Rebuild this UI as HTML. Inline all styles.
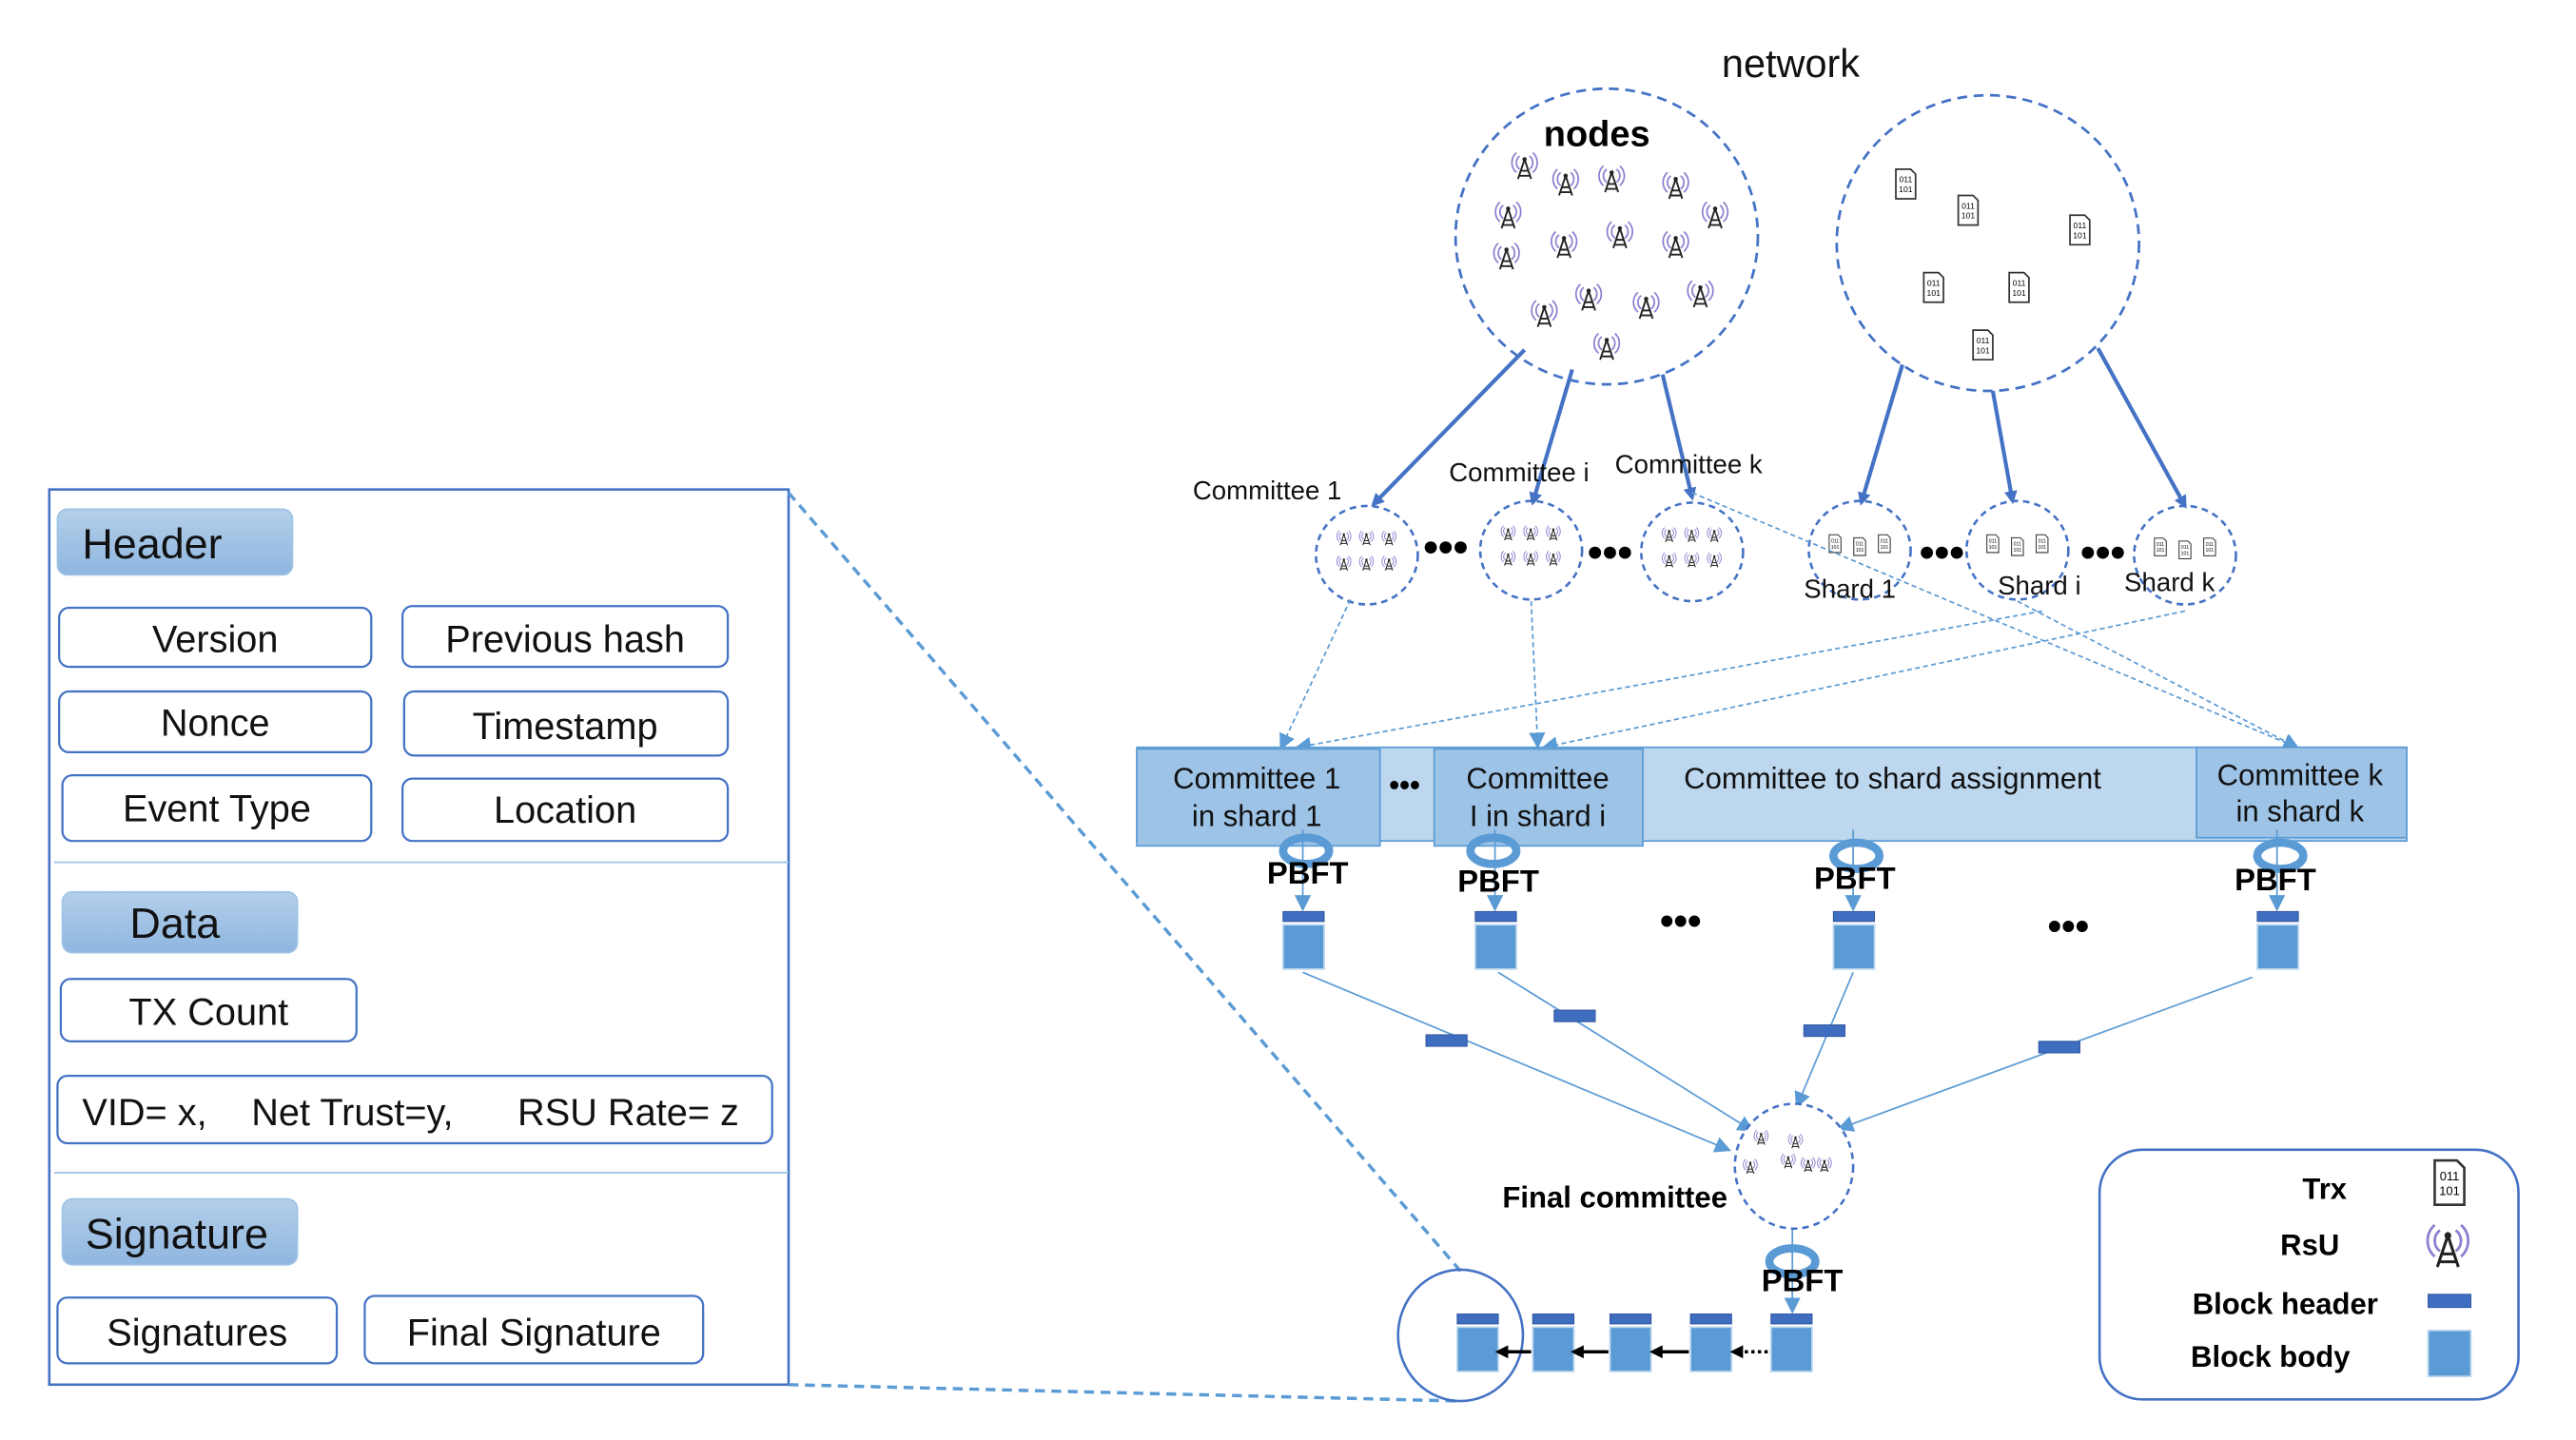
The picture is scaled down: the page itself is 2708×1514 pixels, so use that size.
<!DOCTYPE html>
<html><head><meta charset="utf-8"><style>
html,body{margin:0;padding:0;background:#fff;}
svg{display:block;}
text{font-family:"Liberation Sans",sans-serif;}
</style></head><body>
<svg width="2708" height="1514" viewBox="0 0 1568 876.7" preserveAspectRatio="none" xmlns="http://www.w3.org/2000/svg">
<defs>
<linearGradient id="pill" x1="0" y1="0" x2="0" y2="1"><stop offset="0" stop-color="#b4cfea"/><stop offset="1" stop-color="#8fb6e0"/></linearGradient>
<marker id="ah" markerWidth="8" markerHeight="8" refX="6" refY="4" orient="auto" markerUnits="userSpaceOnUse"><path d="M0,0 L8,4 L0,8z" fill="#4472c4"/></marker>
<marker id="al" markerWidth="10" markerHeight="10" refX="8" refY="5" orient="auto" markerUnits="userSpaceOnUse"><path d="M0,0 L10,5 L0,10z" fill="#5b9bd5"/></marker>
<marker id="ab" markerWidth="8" markerHeight="8" refX="6" refY="4" orient="auto" markerUnits="userSpaceOnUse"><path d="M0,0 L8,4 L0,8z" fill="#000"/></marker>
<g id="tw"><g fill="none" stroke="#8a7fd0" stroke-width="1"><path d="M-3,-5 a5,5 0 0 0 0,8"/><path d="M-5,-7 a8,8 0 0 0 0,12"/><path d="M3,-5 a5,5 0 0 1 0,8"/><path d="M5,-7 a8,8 0 0 1 0,12"/></g><path d="M0,-3 L-4,9 M0,-3 L4,9 M-2,4 L2,4 M-3,7 L3,7" stroke="#222" stroke-width="1.1" fill="none"/><circle cx="0" cy="-3" r="1.3" fill="#222"/></g>
<g id="doc"><path d="M-6,-9 L3,-9 L6,-6 L6,9 L-6,9z" fill="#fff" stroke="#333" stroke-width="1"/><text x="0" y="-1" font-size="5" text-anchor="middle">011</text><text x="0" y="5" font-size="5" text-anchor="middle">101</text></g>
<g id="blk"><rect x="0" y="0" width="25" height="6" fill="#3f6dbf" stroke="#2f55a0" stroke-width="0.6"/><rect x="0" y="8" width="25" height="27" fill="#5b9bd5" stroke="#bdd7ee" stroke-width="1"/></g>
</defs>

<rect x="30" y="298" width="450" height="545" fill="#fff" stroke="#4472c4" stroke-width="1.5"/>
<line x1="480" y1="300" x2="890" y2="775" stroke="#5b9bd5" stroke-width="2" stroke-dasharray="6,4"/>
<line x1="480" y1="843" x2="889" y2="853" stroke="#5b9bd5" stroke-width="2" stroke-dasharray="6,4"/>
<line x1="33" y1="525" x2="480" y2="525" stroke="#9dc3e6" stroke-width="1"/>
<line x1="33" y1="714" x2="480" y2="714" stroke="#9dc3e6" stroke-width="1"/>
<g stroke="#4472c4" stroke-width="1.3" fill="#fff">
<rect x="36" y="370" width="190" height="36" rx="6"/>
<rect x="245" y="369" width="198" height="37" rx="6"/>
<rect x="36" y="421" width="190" height="37" rx="6"/>
<rect x="246" y="421" width="197" height="39" rx="6"/>
<rect x="38" y="472" width="188" height="40" rx="6"/>
<rect x="245" y="474" width="198" height="38" rx="6"/>
<rect x="37" y="596" width="180" height="38" rx="6"/>
<rect x="35" y="655" width="435" height="41" rx="6"/>
<rect x="35" y="790" width="170" height="40" rx="6"/>
<rect x="222" y="789" width="206" height="41" rx="6"/>
</g>
<g fill="url(#pill)" stroke="#9dc3e6" stroke-width="1">
<rect x="35" y="310" width="143" height="40" rx="6"/>
<rect x="38" y="543" width="143" height="37" rx="6"/>
<rect x="38" y="730" width="143" height="40" rx="6"/>
</g>
<g font-size="26" fill="#111">
<text x="50" y="340">Header</text>
<text x="79" y="571">Data</text>
<text x="52" y="760">Signature</text>
</g>
<g font-size="23" fill="#111" text-anchor="middle">
<text x="131" y="397">Version</text>
<text x="344" y="397">Previous hash</text>
<text x="131" y="448">Nonce</text>
<text x="344" y="450">Timestamp</text>
<text x="132" y="500">Event Type</text>
<text x="344" y="501">Location</text>
<text x="127" y="624">TX Count</text>
<text x="120" y="819">Signatures</text>
<text x="325" y="819">Final Signature</text>
</g>
<g font-size="23" fill="#111">
<text x="50" y="685">VID= x,</text>
<text x="153" y="685">Net Trust=y,</text>
<text x="315" y="685">RSU Rate= z</text>
</g>

<text x="1090" y="47" font-size="24" text-anchor="middle" fill="#111">network</text>
<ellipse cx="978" cy="144" rx="92" ry="90" fill="none" stroke="#4472c4" stroke-width="1.6" stroke-dasharray="6,4"/>
<ellipse cx="1210" cy="148" rx="92" ry="90" fill="none" stroke="#4472c4" stroke-width="1.6" stroke-dasharray="6,4"/>
<text x="972" y="89" font-size="22" font-weight="bold" text-anchor="middle">nodes</text>
<g>
<use href="#tw" x="928" y="100"/><use href="#tw" x="953" y="110"/><use href="#tw" x="981" y="108"/><use href="#tw" x="1020" y="112"/>
<use href="#tw" x="918" y="130"/><use href="#tw" x="1044" y="130"/><use href="#tw" x="952" y="148"/><use href="#tw" x="986" y="142"/>
<use href="#tw" x="1020" y="148"/><use href="#tw" x="917" y="155"/><use href="#tw" x="940" y="190"/><use href="#tw" x="967" y="180"/>
<use href="#tw" x="1002" y="185"/><use href="#tw" x="1035" y="178"/><use href="#tw" x="978" y="210"/>
</g>
<g>
<use href="#doc" x="1160" y="112"/><use href="#doc" x="1198" y="128"/><use href="#doc" x="1266" y="140"/>
<use href="#doc" x="1177" y="175"/><use href="#doc" x="1229" y="175"/><use href="#doc" x="1207" y="210"/>
</g>
<g stroke="#4472c4" stroke-width="2.4" marker-end="url(#ah)">
<line x1="928" y1="213" x2="836" y2="307"/>
<line x1="957" y1="225" x2="933" y2="306"/>
<line x1="1012" y1="228" x2="1030" y2="303"/>
<line x1="1158" y1="222" x2="1133" y2="306"/>
<line x1="1213" y1="238" x2="1225" y2="305"/>
<line x1="1277" y1="212" x2="1330" y2="308"/>
</g>
<g fill="none" stroke="#4472c4" stroke-width="1.5" stroke-dasharray="4,3">
<ellipse cx="832" cy="338" rx="31" ry="30"/>
<ellipse cx="932" cy="335" rx="31" ry="30"/>
<ellipse cx="1030" cy="336" rx="31" ry="30"/>
<ellipse cx="1132" cy="335" rx="31" ry="30"/>
<ellipse cx="1228" cy="335" rx="31" ry="30"/>
<ellipse cx="1330" cy="338" rx="31" ry="30"/>
</g>
<g transform="translate(818,327) scale(0.55)"><use href="#tw" x="0" y="0"/><use href="#tw" x="25" y="0"/><use href="#tw" x="50" y="0"/><use href="#tw" x="0" y="28"/><use href="#tw" x="25" y="28"/><use href="#tw" x="50" y="28"/></g>
<g transform="translate(918,324) scale(0.55)"><use href="#tw" x="0" y="0"/><use href="#tw" x="25" y="0"/><use href="#tw" x="50" y="0"/><use href="#tw" x="0" y="28"/><use href="#tw" x="25" y="28"/><use href="#tw" x="50" y="28"/></g>
<g transform="translate(1016,325) scale(0.55)"><use href="#tw" x="0" y="0"/><use href="#tw" x="25" y="0"/><use href="#tw" x="50" y="0"/><use href="#tw" x="0" y="28"/><use href="#tw" x="25" y="28"/><use href="#tw" x="50" y="28"/></g>
<g transform="translate(1117,331) scale(0.6)"><use href="#doc" x="0" y="0"/><use href="#doc" x="25" y="3"/><use href="#doc" x="50" y="0"/></g>
<g transform="translate(1213,331) scale(0.6)"><use href="#doc" x="0" y="0"/><use href="#doc" x="25" y="3"/><use href="#doc" x="50" y="0"/></g>
<g transform="translate(1315,333) scale(0.6)"><use href="#doc" x="0" y="0"/><use href="#doc" x="25" y="3"/><use href="#doc" x="50" y="0"/></g>
<g font-size="26" font-weight="bold" text-anchor="middle" fill="#000">
<text x="880" y="342">•••</text><text x="980" y="345">•••</text><text x="1182" y="345">•••</text><text x="1280" y="345">•••</text>
</g>
<g font-size="16" fill="#111">
<text x="726" y="304">Committee 1</text>
<text x="882" y="293">Committee i</text>
<text x="983" y="288">Committee k</text>
<text x="1098" y="364">Shard 1</text>
<text x="1216" y="362">Shard i</text>
<text x="1293" y="360">Shard k</text>
</g>
<g stroke="#5b9bd5" stroke-width="1" stroke-dasharray="3,2" fill="none" marker-end="url(#al)">
<line x1="822" y1="365" x2="780" y2="455"/>
<line x1="932" y1="366" x2="936" y2="454"/>
<line x1="1243" y1="372" x2="790" y2="455"/>
<line x1="1330" y1="372" x2="940" y2="455"/>
<line x1="1030" y1="300" x2="1398" y2="455"/>
<line x1="1228" y1="366" x2="1398" y2="455"/>
</g>

<rect x="692" y="455" width="773" height="57" fill="#bdd7ee" stroke="#5b9bd5" stroke-width="1"/>
<g fill="#9dc3e6" stroke="#5b9bd5" stroke-width="1">
<rect x="692" y="456" width="148" height="59"/>
<rect x="873" y="456" width="127" height="59"/>
<rect x="1337" y="455" width="128" height="55"/>
</g>
<g font-size="18" fill="#111" text-anchor="middle">
<text x="765" y="480">Committee 1</text><text x="765" y="503">in shard 1</text>
<text x="936" y="480">Committee</text><text x="936" y="503">I in shard i</text>
<text x="1400" y="478">Committee k</text><text x="1400" y="500">in shard k</text>
<text x="1152" y="480">Committee to shard assignment</text>
</g>
<text x="855" y="484" font-size="18" font-weight="bold" text-anchor="middle">•••</text>

<g fill="none" stroke="#5b9bd5" stroke-width="5">
<ellipse cx="795" cy="518" rx="14" ry="8"/>
<ellipse cx="909" cy="518" rx="14" ry="8"/>
<ellipse cx="1130" cy="521" rx="14" ry="8"/>
<ellipse cx="1388" cy="521" rx="14" ry="8"/>
<ellipse cx="1091" cy="768" rx="14" ry="8"/>
</g>
<g stroke="#5b9bd5" stroke-width="1" marker-end="url(#al)">
<line x1="793" y1="505" x2="793" y2="553"/>
<line x1="910" y1="505" x2="910" y2="553"/>
<line x1="1128" y1="505" x2="1128" y2="553"/>
<line x1="1386" y1="505" x2="1386" y2="553"/>
<line x1="1091" y1="748" x2="1091" y2="798"/>
</g>
<g font-size="19" font-weight="bold" text-anchor="middle" fill="#000">
<text x="796" y="538">PBFT</text><text x="912" y="543">PBFT</text><text x="1129" y="541">PBFT</text><text x="1385" y="542">PBFT</text><text x="1097" y="786">PBFT</text>
</g>
<use href="#blk" x="781" y="555"/><use href="#blk" x="898" y="555"/><use href="#blk" x="1116" y="555"/><use href="#blk" x="1374" y="555"/>
<g font-size="24" font-weight="bold" text-anchor="middle"><text x="1023" y="569">•••</text><text x="1259" y="572">•••</text></g>

<g stroke="#5b9bd5" stroke-width="1" marker-end="url(#al)">
<line x1="793" y1="592" x2="1052" y2="700"/>
<line x1="912" y1="592" x2="1066" y2="688"/>
<line x1="1128" y1="592" x2="1094" y2="673"/>
<line x1="1371" y1="595" x2="1120" y2="687"/>
</g>
<g fill="#3f6dbf" stroke="#2f55a0" stroke-width="0.6">
<rect x="868" y="630" width="25" height="7"/>
<rect x="946" y="615" width="25" height="7"/>
<rect x="1098" y="624" width="25" height="7"/>
<rect x="1241" y="634" width="25" height="7"/>
</g>
<ellipse cx="1092" cy="710" rx="36" ry="38" fill="#fff" stroke="#4472c4" stroke-width="1.5" stroke-dasharray="4,3"/>
<g transform="translate(1072,692) scale(0.55)"><use href="#tw" x="0" y="0"/><use href="#tw" x="38" y="4"/><use href="#tw" x="30" y="26"/><use href="#tw" x="-12" y="32"/><use href="#tw" x="52" y="30"/><use href="#tw" x="70" y="30"/></g>
<text x="983" y="735" font-size="18" font-weight="bold" text-anchor="middle">Final committee</text>

<ellipse cx="889" cy="813" rx="38" ry="40" fill="none" stroke="#4472c4" stroke-width="1.5"/>
<use href="#blk" x="887" y="800"/><use href="#blk" x="933" y="800"/><use href="#blk" x="980" y="800"/><use href="#blk" x="1029" y="800"/><use href="#blk" x="1078" y="800"/>
<g stroke="#000" stroke-width="2" marker-end="url(#ab)">
<line x1="932" y1="823" x2="912" y2="823"/>
<line x1="979" y1="823" x2="958" y2="823"/>
<line x1="1028" y1="823" x2="1006" y2="823"/>
<line x1="1076" y1="823" x2="1055" y2="823" stroke-dasharray="2,2"/>
</g>

<rect x="1278" y="700" width="255" height="152" rx="26" fill="#fff" stroke="#4472c4" stroke-width="1.5"/>
<g font-size="18" font-weight="bold" fill="#000" text-anchor="middle">
<text x="1415" y="730">Trx</text>
<text x="1406" y="764">RsU</text>
<text x="1391" y="800">Block header</text>
<text x="1382" y="832">Block body</text>
</g>
<g transform="translate(1491,720) scale(1.5)"><use href="#doc"/></g>
<g transform="translate(1490,757) scale(1.6)"><use href="#tw"/></g>
<rect x="1478" y="788" width="26" height="8" fill="#3f6dbf" stroke="#2f55a0" stroke-width="0.6"/>
<rect x="1478" y="810" width="26" height="28" fill="#5b9bd5" stroke="#bdd7ee" stroke-width="1"/>
</svg>
</body></html>
